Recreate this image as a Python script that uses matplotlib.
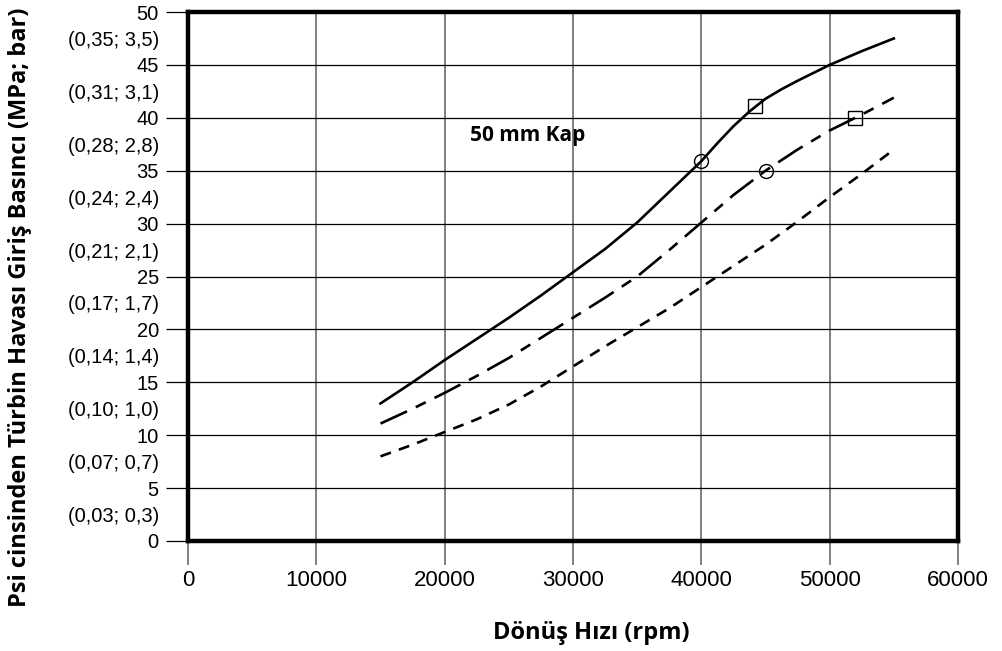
import matplotlib.pyplot as plt
from matplotlib.ticker import FixedLocator, FixedFormatter

plt.rcParams['lines.scale_dashes'] = False

# Read values (rpm vs psi)
solid_rpm = [15000, 17500, 20000, 22500, 25000, 27500, 30000, 32500, 35000,
             37500, 40000, 41250, 42500, 43750, 45000, 46250, 47500, 50000,
             52500, 55000]
solid_psi = [13.0, 15.0, 17.1, 19.1, 21.1, 23.2, 25.4, 27.6, 30.1,
             33.0, 35.9, 37.6, 39.2, 40.6, 41.8, 42.7, 43.5, 45.0,
             46.3, 47.5]
rpm = [15000, 17500, 20000, 22500, 25000, 27500, 30000, 32500, 35000,
       37500, 40000, 42500, 45000, 47500, 50000, 52500, 55000]
longdash_psi = [11.1, 12.5, 14.0, 15.6, 17.3, 19.2, 21.1, 23.0, 25.0,
                27.5, 30.1, 32.7, 35.0, 37.0, 38.8, 40.3, 41.9]
shortdash_psi = [8.0, 9.1, 10.3, 11.5, 12.9, 14.6, 16.5, 18.4, 20.2,
                 22.0, 24.0, 26.0, 28.0, 30.2, 32.5, 34.7, 37.0]

circle_x = [40000, 45000]
circle_y = [35.9, 35.0]
square_x = [44200, 52000]
square_y = [41.1, 40.0]

y_major = [0, 5, 10, 15, 20, 25, 30, 35, 40, 45, 50]
y_minor = [2.5, 7.5, 12.5, 17.5, 22.5, 27.5, 32.5, 37.5, 42.5, 47.5]
y_minor_labels = ['(0,03; 0,3)', '(0,07; 0,7)', '(0,10; 1,0)', '(0,14; 1,4)',
                  '(0,17; 1,7)', '(0,21; 2,1)', '(0,24; 2,4)', '(0,28; 2,8)',
                  '(0,31; 3,1)', '(0,35; 3,5)']
x_major = [0, 10000, 20000, 30000, 40000, 50000, 60000]

fig = plt.figure(figsize=(10.03, 6.51), dpi=100)
ax = fig.add_axes([188 / 1003, 1 - 541 / 651, (958 - 188) / 1003, (541 - 12) / 651])

ax.set_xlim(0, 60000)
ax.set_ylim(0, 50)

# grid
for x in x_major[1:-1]:
    ax.axvline(x, color='#808080', lw=1.4, zorder=1)
for y in y_major[1:-1]:
    ax.axhline(y, color='black', lw=0.9, zorder=1)

# curves
ax.plot(solid_rpm, solid_psi, color='black', lw=1.9, zorder=3)
ax.plot(rpm, longdash_psi, color='black', lw=1.9, dashes=(21, 7, 8, 7), zorder=3)
ax.plot(rpm, shortdash_psi, color='black', lw=1.9, dashes=(8, 6), zorder=3)

# markers
ax.plot(circle_x, circle_y, 'o', ms=10, mfc='none', mec='black', mew=1.0, zorder=4)
ax.plot(square_x, square_y, 's', ms=9.5, mfc='none', mec='black', mew=1.0, zorder=4)

ax.text(22000, 38.3, '50 mm Kap', fontsize=15, fontweight='bold',
        family='Open Sans', va='center', ha='left', zorder=5)

# ticks
ax.yaxis.set_major_locator(FixedLocator(y_major))
ax.yaxis.set_minor_locator(FixedLocator(y_minor))
ax.yaxis.set_minor_formatter(FixedFormatter(y_minor_labels))
ax.set_xticks(x_major)
ax.set_xticklabels([str(v) for v in x_major])
ax.tick_params(axis='y', which='major', length=16, width=0.9, color='black',
               pad=5, labelsize=14.5)
ax.tick_params(axis='y', which='minor', length=0, pad=21, labelsize=14.5)
ax.tick_params(axis='x', which='major', length=17, width=1.4, color='#808080',
               pad=4, labelsize=16)
for lab in ax.get_xticklabels() + ax.get_yticklabels() + ax.get_yticklabels(minor=True):
    lab.set_family('Liberation Sans')

for s in ax.spines.values():
    s.set_linewidth(3.2)
    s.set_zorder(6)

fig.text(591 / 1003, 1 - 633 / 651, 'Dönüş Hızı (rpm)', fontsize=17,
         fontweight='bold', family='Open Sans', ha='center', va='center')
fig.text(20 / 1003, 1 - 307 / 651, 'Psi cinsinden Türbin Havası Giriş Basıncı (MPa; bar)',
         fontsize=17, fontweight='bold', family='Open Sans', rotation=90,
         ha='center', va='center')

fig.savefig('out.png', dpi=100)
